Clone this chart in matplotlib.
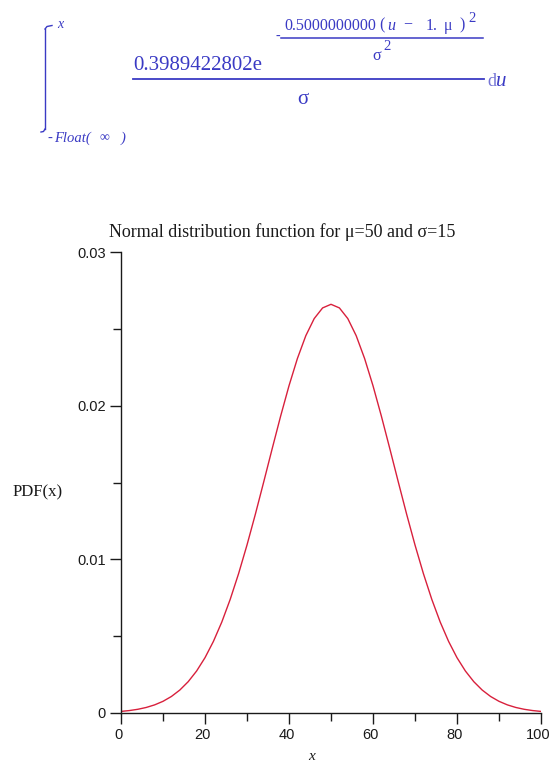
import matplotlib
matplotlib.use("Agg")
import matplotlib.pyplot as plt
from matplotlib.lines import Line2D
from matplotlib.ticker import MultipleLocator, FixedLocator
from matplotlib.transforms import ScaledTranslation

# Data: normal PDF, mu=50, sigma=15
x_vals = [0, 2, 4, 6, 8, 10, 12, 14, 16, 18, 20, 22, 24, 26, 28, 30, 32, 34, 36, 38,
          40, 42, 44, 46, 48, 50, 52, 54, 56, 58, 60, 62, 64, 66, 68, 70, 72, 74, 76,
          78, 80, 82, 84, 86, 88, 90, 92, 94, 96, 98, 100]
pdf_left = [0.000103, 0.000159, 0.000241, 0.000360, 0.000528, 0.000760, 0.001075,
            0.001493, 0.002038, 0.002732, 0.003599, 0.004658, 0.005920, 0.007394,
            0.009072, 0.010934, 0.012946, 0.015059, 0.017205, 0.019312, 0.021296,
            0.023069, 0.024551, 0.025667, 0.026361]
pdf_peak = [0.026596]
pdf_values = pdf_left + pdf_peak + pdf_left[::-1]

y_ticks = [0, 0.01, 0.02, 0.03]
y_tick_labels = ["0", "0.01", "0.02", "0.03"]
x_ticks = [0, 20, 40, 60, 80, 100]
x_tick_labels = ["0", "20", "40", "60", "80", "100"]

title = "Normal distribution function for μ=50 and σ=15"

W, H = 551, 765
fig = plt.figure(figsize=(W / 100, H / 100), dpi=100)
fig.patch.set_facecolor("white")


def fx(px):
    return px / W


def fy(py):
    return 1 - py / H


blue = "#3a3ac4"
serif = "Liberation Serif"
fams = [serif, "DejaVu Serif"]


def ftext(x, y, s, size, ha="left", italic=False, color=blue, alpha=1.0):
    fig.text(fx(x), fy(y), s, color=color, family=fams, fontsize=size,
             style="italic" if italic else "normal", ha=ha, va="center", alpha=alpha)


def fline(xs, ys, lw=1.0):
    fig.add_artist(Line2D([fx(v) for v in xs], [fy(v) for v in ys], color=blue, lw=lw,
                          transform=fig.transFigure))


# ---- formula at top ----
# integral sign
fline([45, 45], [29, 129])
fline([45, 47, 52], [29, 26.5, 25.5])
fline([45, 43.5, 41], [129, 131.5, 132])
ftext(57, 25, "x", 10, italic=True)
ftext(47, 138, "-", 10.5, italic=True)
ftext(54, 138, "Float(", 10.5, italic=True)
ftext(100, 138, "∞", 10)
ftext(121, 138, ")", 10.5, italic=True)

# main fraction
ftext(133, 65, "0.3989422802e", 15)
fline([133, 484], [79, 79], lw=1.3)
ftext(303, 99, "σ", 15, ha="center")
ftext(487, 81, "d", 13, alpha=0.7)
ftext(496, 81, "u", 15, italic=True)

# exponent
ftext(276, 36, "-", 10)
ftext(284, 25.5, "0.5000000000", 11.5)
ftext(379, 25.5, "(", 11.5)
ftext(387, 25.5, "u", 11.5, italic=True)
ftext(403, 25.5, "−", 11.5)
ftext(426, 25.5, "1.", 11.5)
ftext(444, 25.5, "μ", 11.5)
ftext(459, 25.5, ")", 11.5)
ftext(468, 18, "2", 10.5)
fline([281, 483], [37.5, 37.5], lw=1.1)
ftext(377, 56, "σ", 11.5, ha="center")
ftext(383, 47, "2", 10.5)

# ---- plot ----
dark = "#1a1a1a"
ax = fig.add_axes([fx(121), fy(713), fx(541) - fx(121), fy(252) - fy(713)])
ax.plot(x_vals, pdf_values, color="#d8203c", lw=1.0)
ax.set_xlim(0, 100)
ax.set_ylim(0, 0.03)
for s in ["top", "right"]:
    ax.spines[s].set_visible(False)
for s in ["left", "bottom"]:
    ax.spines[s].set_linewidth(1.0)
    ax.spines[s].set_color(dark)

ax.xaxis.set_major_locator(FixedLocator(x_ticks))
ax.set_xticklabels(x_tick_labels)
ax.yaxis.set_major_locator(FixedLocator(y_ticks))
ax.set_yticklabels(y_tick_labels)
ax.xaxis.set_minor_locator(MultipleLocator(10))
ax.yaxis.set_minor_locator(MultipleLocator(0.005))
ax.tick_params(which="major", direction="out", length=8, width=1.0, color=dark,
               labelsize=10.5, pad=3)
ax.tick_params(which="minor", direction="out", length=6, width=1.0, color=dark)
shift = ScaledTranslation(-2.5 / 100, 0, fig.dpi_scale_trans)
for lab in ax.get_xticklabels():
    lab.set_transform(lab.get_transform() + shift)
for lab in ax.get_xticklabels() + ax.get_yticklabels():
    lab.set_family("Liberation Sans")
    lab.set_color(dark)

fig.text(fx(282), fy(232), title, family=fams, fontsize=13, ha="center", va="center",
         color=dark)
fig.text(fx(38), fy(492), "PDF(x)", family=fams, fontsize=12, ha="center", va="center",
         color=dark)
fig.text(fx(312), fy(756), "x", family=fams, style="italic", fontsize=11, ha="center",
         va="center", color=dark)

fig.savefig("out.png", dpi=100, facecolor="white")
